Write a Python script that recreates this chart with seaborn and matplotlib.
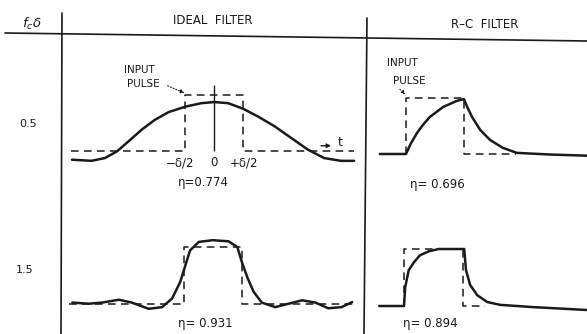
import seaborn as sns
import matplotlib.pyplot as plt
from matplotlib.lines import Line2D

# t in units of the pulse width delta, a relative to the pulse height
ideal_05_t = [-2.46, -2.12, -1.89, -1.68, -1.48, -1.25, -1.03, -0.79, -0.49, -0.22, 0.0,
              0.24, 0.50, 0.76, 1.04, 1.33, 1.62, 1.90, 2.19, 2.42]
ideal_05_a = [-0.15, -0.17, -0.12, 0.0, 0.18, 0.39, 0.56, 0.70, 0.80, 0.86, 0.88,
              0.86, 0.76, 0.62, 0.45, 0.24, 0.03, -0.12, -0.17, -0.17]

ideal_15_t = [-2.41, -2.13, -1.90, -1.61, -1.39, -1.10, -0.87, -0.70, -0.56, -0.47, -0.39,
              -0.24, 0.0, 0.27, 0.42, 0.50, 0.59, 0.70, 0.84, 1.07, 1.30, 1.53, 1.76,
              1.98, 2.21, 2.39]
ideal_15_a = [0.02, 0.0, 0.02, 0.07, 0.02, -0.09, -0.06, 0.09, 0.38, 0.68, 0.94,
              1.09, 1.12, 1.10, 1.0, 0.73, 0.47, 0.21, 0.02, -0.06, 0.0, 0.06, 0.02,
              -0.08, -0.06, 0.03]

rc_05_t = [-0.45, 0.0, 0.08, 0.19, 0.30, 0.41, 0.64, 0.88, 1.0, 1.06, 1.14, 1.28, 1.45,
           1.67, 1.91, 2.5, 3.12]
rc_05_a = [0.0, 0.0, 0.18, 0.375, 0.53, 0.66, 0.84, 0.95, 0.98, 0.83, 0.66, 0.43, 0.25,
           0.11, 0.02, -0.01, -0.03]

rc_15_t = [-0.42, 0.0, 0.02, 0.08, 0.17, 0.27, 0.42, 0.59, 1.02, 1.05, 1.12, 1.24, 1.41,
           1.63, 2.2, 3.1]
rc_15_a = [0.0, 0.0, 0.33, 0.63, 0.77, 0.89, 0.96, 1.0, 1.0, 0.63, 0.37, 0.19, 0.07,
           0.02, -0.02, -0.07]

# input pulses (dashed)
ideal_pulse_t = [-2.47, -0.5, -0.5, 0.5, 0.5, 2.41]
ideal_pulse_a = [0, 0, 1, 1, 0, 0]
rc_05_pulse_t = [0, 0, 1, 1, 1.9]
rc_15_pulse_t = [0, 0, 1, 1, 1.38]
rc_pulse_a = [0, 1, 1, 0, 0]

row_labels = ["0.5", "1.5"]
ideal_eta = ["0.774", "0.931"]
rc_eta = ["0.696", "0.894"]

W, H = 587, 334


def fx(x):
    return x / W


def fy(y):
    return 1 - y / H


def panel(x0, x1, y0, y1, xlim, ylim):
    ax = fig.add_axes([fx(x0), fy(y1), fx(x1) - fx(x0), fy(y0) - fy(y1)])
    ax.set_xlim(*xlim)
    ax.set_ylim(*ylim)
    ax.set_axis_off()
    return ax


sns.set_style("white")
plt.rcParams['font.family'] = ['DejaVu Sans']
fig = plt.figure(figsize=(5.87, 3.34), dpi=100)

ink = "#1a1a1a"
curve_kw = dict(color=ink, linewidth=1.8, estimator=None, sort=False)
dash_kw = dict(color=ink, linewidth=1.1, linestyle=(0, (5, 3.5)), estimator=None, sort=False)

ax1 = panel(62, 367, 40, 190, (-2.633, 2.643), (-0.691, 1.988))
ax2 = panel(62, 367, 190, 334, (-2.587, 2.645), (-0.534, 2.005))
ax3 = panel(367, 587, 40, 190, (-0.672, 3.121), (-0.643, 2.036))
ax4 = panel(367, 587, 190, 334, (-0.627, 3.10), (-0.491, 2.035))

sns.lineplot(x=ideal_pulse_t, y=ideal_pulse_a, ax=ax1, **dash_kw)
sns.lineplot(x=ideal_05_t, y=ideal_05_a, ax=ax1, **curve_kw)
ax1.vlines(0, 0, 1.19, color=ink, linewidth=1.0)

sns.lineplot(x=ideal_pulse_t, y=ideal_pulse_a, ax=ax2, **dash_kw)
sns.lineplot(x=ideal_15_t, y=ideal_15_a, ax=ax2, **curve_kw)

sns.lineplot(x=rc_05_pulse_t, y=rc_pulse_a, ax=ax3, **dash_kw)
sns.lineplot(x=rc_05_t, y=rc_05_a, ax=ax3, **curve_kw)

sns.lineplot(x=rc_15_pulse_t, y=rc_pulse_a, ax=ax4, **dash_kw)
sns.lineplot(x=rc_15_t, y=rc_15_a, ax=ax4, **curve_kw)

# table rules
fig.add_artist(Line2D([fx(5), fx(587)], [fy(33), fy(41)], color=ink, lw=1.2))
fig.add_artist(Line2D([fx(62), fx(61)], [fy(13), fy(334)], color=ink, lw=1.2))
fig.add_artist(Line2D([fx(367), fx(364)], [fy(18), fy(334)], color=ink, lw=1.2))

# headings
fig.text(fx(213), fy(21), "IDEAL  FILTER", ha="center", va="center", fontsize=8.5, color=ink)
fig.text(fx(485), fy(25), "R\u2013C  FILTER", ha="center", va="center", fontsize=8.5, color=ink)
fig.text(fx(32), fy(24), r"$f_c\delta$", ha="center", va="center", fontsize=9.5, color=ink)
fig.text(fx(28), fy(124), row_labels[0], ha="center", va="center", fontsize=8, color=ink)
fig.text(fx(25), fy(270), row_labels[1], ha="center", va="center", fontsize=8, color=ink)

# pulse width labels
ax1.text(-0.6, -0.2, "\u2212\u03b4/2", ha="center", va="center", fontsize=8.5, color=ink)
ax1.text(0, -0.2, "0", ha="center", va="center", fontsize=8.5, color=ink)
ax1.text(0.52, -0.2, "+\u03b4/2", ha="center", va="center", fontsize=8.5, color=ink)
ax1.annotate("", xy=(2.07, 0.10), xytext=(1.8, 0.10),
             arrowprops=dict(arrowstyle="-|>", color=ink, lw=1.0, mutation_scale=6))
ax1.text(2.17, 0.15, "t", ha="center", va="center", fontsize=9, color=ink)

# efficiencies
ax1.text(-0.18, -0.55, "\u03b7=" + ideal_eta[0], ha="center", va="center",
         fontsize=8.5, color=ink)
ax2.text(-0.13, -0.35, "\u03b7= " + ideal_eta[1], ha="center", va="center",
         fontsize=8.5, color=ink)
ax3.text(0.54, -0.54, "\u03b7= " + rc_eta[0], ha="center", va="center",
         fontsize=8.5, color=ink)
ax4.text(0.44, -0.30, "\u03b7= " + rc_eta[1], ha="center", va="center",
         fontsize=8.5, color=ink)

# input pulse callouts
ax1.text(-1.29, 1.45, "INPUT", ha="center", va="center", fontsize=7.5, color=ink)
ax1.text(-1.22, 1.20, "PULSE", ha="center", va="center", fontsize=7.5, color=ink)
ax1.annotate("", xy=(-0.47, 1.02), xytext=(-0.85, 1.19),
             arrowprops=dict(arrowstyle="-|>", color=ink, lw=0.8, linestyle=":",
                             mutation_scale=6))
ax3.text(-0.07, 1.62, "INPUT", ha="center", va="center", fontsize=7.5, color=ink)
ax3.text(0.05, 1.31, "PULSE", ha="center", va="center", fontsize=7.5, color=ink)
ax3.annotate("", xy=(0.02, 1.03), xytext=(-0.14, 1.19),
             arrowprops=dict(arrowstyle="-|>", color=ink, lw=0.8, linestyle=":",
                             mutation_scale=5))

fig.savefig("out.png", dpi=100)
